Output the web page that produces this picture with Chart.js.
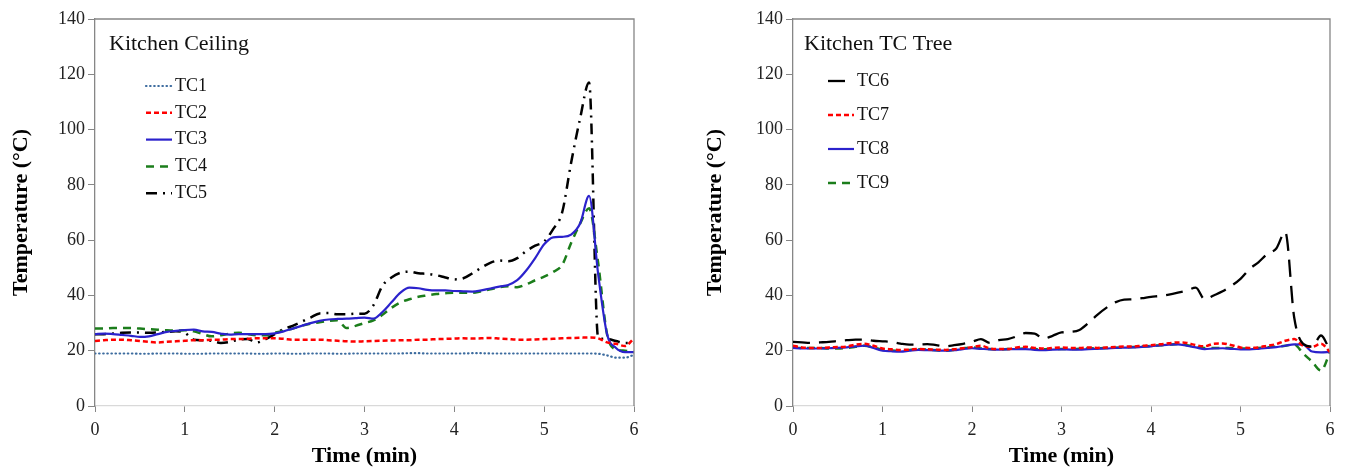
<!DOCTYPE html>
<html>
<head>
<meta charset="utf-8">
<script src="https://cdn.jsdelivr.net/npm/chart.js@4"></script>
<style>
  html,body{margin:0;padding:0;background:#fff;}
  body{width:1350px;height:470px;position:relative;overflow:hidden;}
  .box{position:absolute;top:0;height:470px;}
  #leftBox{left:0;width:660px;}
  #rightBox{left:660px;width:690px;}
</style>
</head>
<body>
<div class="box" id="leftBox"><canvas id="ceilingChart"></canvas></div>
<div class="box" id="rightBox"><canvas id="treeChart"></canvas></div>
<script>
// --- Data (time in min, temperature in °C) ---
const times = [0,0.1,0.2,0.3,0.4,0.5,0.6,0.7,0.8,0.9,1,1.1,1.2,1.3,1.4,1.5,1.6,1.7,1.8,1.9,2,2.1,2.2,2.3,2.4,2.5,2.6,2.7,2.8,2.9,3,3.1,3.2,3.3,3.4,3.5,3.6,3.7,3.8,3.9,4,4.1,4.2,4.3,4.4,4.5,4.6,4.7,4.8,4.9,5,5.1,5.2,5.3,5.4,5.5,5.6,5.7,5.8,5.9,6];
const xTicks = [0,1,2,3,4,5,6];
const yTicks = [0,20,40,60,80,100,120,140];

// Kitchen ceiling
const tc1 = [19,19,19,19,19,18.9,18.9,19,19,19,18.9,18.9,18.9,19,19,19,19,19,18.9,18.9,19,19,18.9,18.9,19,19,19,18.9,18.9,19,19,19,19,19,19,19.1,19.1,19,19,19,19,19,19.1,19.1,19,19,19,19,19,19,19,19,19,19,19,19,18.9,18.3,17.5,17.5,18.5];
const tc2 = [23.5,23.8,24,24,23.8,23.5,23.2,23,23.2,23.4,23.6,23.8,23.8,24,24,24.2,24.2,24.3,24.5,24.5,24.5,24.3,24,24,24,24,23.8,23.6,23.4,23.3,23.4,23.5,23.6,23.7,23.8,23.8,24,24,24.2,24.3,24.4,24.5,24.4,24.5,24.6,24.4,24.2,24,24,24.1,24.2,24.3,24.5,24.6,24.7,24.8,24.5,23,22.5,21.7,24.5];
const tc3 = [26,26.2,26,25.7,25.4,25,25.2,26,26.8,27.2,27.5,27.6,27,26.8,26.2,25.8,26,26,26,26,26.3,27,28,29,30,30.8,31.3,31.5,31.6,31.8,32,31.6,34,37.5,41,42.8,42.6,42,41.8,41.8,41.6,41.5,41.4,41.8,42.5,43.2,43.8,45.5,49,53.5,58.5,61,61.2,62,66,76,48,26,21,19.5,19.5];
const tc4 = [28,28,28.2,28.2,28.2,28,27.8,27.6,27.4,27.3,27.4,27,26,25.2,25.6,26.2,26.5,26,25.6,25.6,26.5,27.2,28,29,29.8,30.3,30.8,31,28.2,29,30,31,33,35.5,37.5,38.6,39.5,40,40.5,40.8,41,41,41,41.5,42.2,43,43.3,43,44,45.5,46.8,48.5,51,59,66,71.5,52,26,20.5,20,19.5];
const tc5 = [26,26,26.2,26.5,26.6,26.6,26.5,26.6,26.8,27,26.5,24,23.8,23.6,22.8,23.2,24,24.2,23,24.2,26,27.8,29,30.5,32,33.5,33.6,33.2,33.2,33.4,33.4,36.5,43.5,46.5,48.2,48.6,48,47.8,47.3,46.5,45.8,46.2,48,50,51.8,52.6,52.4,53.5,56,58,59.5,64,70,88,104,117,25,24.2,23.5,22.8,22.8];

// Kitchen TC tree
const tc6 = [23.2,23,22.8,23,23.2,23.5,23.8,24,24,23.6,23.4,23.2,22.6,22.2,22.2,22.4,22,21.6,22,22.5,23.2,24.2,22.8,23.8,24.2,25.2,26.4,26.2,24.4,25.4,26.6,26.8,27.5,30,33,35.5,37.5,38.5,38.6,39,39.5,39.8,40.3,41,41.8,42.8,38.6,40,41.5,43.5,46,49.5,52,55,57,63,32,22.5,21.5,25.5,20];
const tc7 = [21.8,21.2,21,21,21.2,21.3,21.5,22.2,22.5,21.8,20.8,20.5,20.3,20.4,20.6,20.5,20.4,20.3,20.5,20.9,21.3,21.8,20.8,20.6,20.6,21.2,21.4,21,20.8,21,21.2,21,21,21.2,21,21.2,21.3,21.5,21.5,21.8,22,22.3,22.7,23,22.8,22,21.6,22.5,22.6,22,21.2,21,21.2,21.8,22.4,23.6,24.2,21.8,21.4,22.5,19.5];
const tc8 = [21,20.8,20.8,20.8,20.9,21,21.2,21.6,21.8,21,20,19.8,19.7,20,20.3,20.2,20.1,20,20.2,20.6,20.9,20.7,20.5,20.4,20.5,20.6,20.6,20.3,20.2,20.4,20.5,20.4,20.4,20.6,20.7,20.8,21,21.1,21.2,21.4,21.6,21.9,22.2,22.3,21.8,21.2,20.6,20.8,20.9,20.7,20.5,20.5,20.7,21,21.3,21.8,22.3,22.2,19.7,19.4,19.5];
const tc9 = [21.2,21,21,21,20.8,20.8,21,21.4,21.8,21.2,20.3,20.1,20,20.3,20.5,20.4,20.2,20,20.3,20.8,21.2,20.8,20.6,20.5,20.6,20.7,20.8,20.6,20.5,20.6,20.6,20.6,20.7,20.8,20.9,21,21.1,21.2,21.3,21.5,21.7,22,22.2,22.4,22,21.4,21,21,21,20.9,20.8,20.8,21,21.2,21.5,21.8,22.3,19,16,12.8,19.5];

// --- Styling ---
const SERIF = "'Liberation Serif','Times New Roman',serif";
const AXIS_GRAY = '#868686';
Chart.defaults.font.family = SERIF;
Chart.defaults.color = '#222';

function pts(vals){ return times.map((t,i)=>({x:t, y:vals[i]})); }

function series(label, vals, color, dash, width, cap){
  return {
    label, data: pts(vals), borderColor: color, backgroundColor: color,
    borderWidth: width || 2.2, borderDash: dash || [], borderCapStyle: cap || 'butt',
    pointRadius: 0, fill: false, cubicInterpolationMode: 'monotone'
  };
}

// --- Legend + caption drawn inside the plot area ---
const insideLegend = {
  id: 'insideLegend',
  afterDraw(chart, args, opts){
    const ctx = chart.ctx, a = chart.chartArea;
    ctx.save();
    // top + right frame
    ctx.strokeStyle = AXIS_GRAY; ctx.lineWidth = 1.3;
    ctx.beginPath();
    ctx.moveTo(a.left, a.top); ctx.lineTo(a.right, a.top); ctx.lineTo(a.right, a.bottom);
    ctx.stroke();
    // caption
    ctx.fillStyle = '#111';
    ctx.font = `22px ${SERIF}`;
    ctx.textBaseline = 'middle';
    ctx.fillText(opts.title, opts.titleX, opts.titleY);
    // entries
    ctx.font = `18px ${SERIF}`;
    chart.data.datasets.forEach((ds,i)=>{
      const y = opts.y + i*opts.gap;
      ctx.strokeStyle = ds.borderColor;
      ctx.lineWidth = ds.borderWidth;
      ctx.lineCap = ds.borderCapStyle;
      ctx.setLineDash(ds.borderDash);
      ctx.beginPath(); ctx.moveTo(opts.x, y); ctx.lineTo(opts.x + opts.sample, y); ctx.stroke();
      ctx.setLineDash([]);
      ctx.fillStyle = '#111';
      ctx.fillText(ds.label, opts.x + opts.sample + 3, y);
    });
    ctx.restore();
  }
};

function makeChart(canvasId, datasets, yWidth, padLeft, padRight, legendOpts){
  return new Chart(document.getElementById(canvasId), {
    type: 'line',
    data: { datasets },
    plugins: [insideLegend],
    options: {
      responsive: true, maintainAspectRatio: false, animation: false,
      layout: { padding: { left: padLeft, right: padRight, top: 19, bottom: 0 } },
      plugins: { legend: { display: false }, tooltip: { enabled: false }, insideLegend: legendOpts },
      scales: {
        x: {
          type: 'linear', min: 0, max: 6,
          afterBuildTicks: s => { s.ticks = xTicks.map(v=>({value:v})); },
          grid: { drawOnChartArea: false, tickLength: 6, color: AXIS_GRAY },
          border: { color: '#d9d9d9', width: 1.3 },
          ticks: { font: { size: 18 }, padding: 7, color: '#222', maxRotation: 0 },
          title: { display: true, text: 'Time (min)', font: { size: 22, weight: 'bold' }, color: '#000', padding: { top: 0, bottom: 0 } },
          afterFit: s => { s.height = 64; }
        },
        y: {
          min: 0, max: 140,
          afterBuildTicks: s => { s.ticks = yTicks.map(v=>({value:v})); },
          grid: { drawOnChartArea: false, tickLength: 7, color: AXIS_GRAY },
          border: { color: AXIS_GRAY, width: 1.3 },
          ticks: { font: { size: 18 }, padding: 3, color: '#222' },
          title: { display: true, text: 'Temperature (°C)', font: { size: 22, weight: 'bold' }, color: '#000', padding: { top: 4, bottom: 0 } },
          afterFit: s => { s.width = yWidth; }
        }
      }
    }
  });
}

// --- Kitchen Ceiling ---
makeChart('ceilingChart', [
  series('TC1', tc1, '#3d6c9f', [0.5, 3.6], 2.2, 'round'),
  series('TC2', tc2, '#ff0000', [5, 3], 2.5),
  series('TC3', tc3, '#2b22cc', [], 2.2),
  series('TC4', tc4, '#1b7d1b', [8, 6], 2.5),
  series('TC5', tc5, '#000000', [11, 6, 2, 6], 2.5)
], 91, 4, 26, { title: 'Kitchen Ceiling', titleX: 109, titleY: 44, x: 146, y: 86, gap: 26.8, sample: 26 });

// --- Kitchen TC Tree ---
makeChart('treeChart', [
  series('TC6', tc6, '#000000', [17, 9], 2.3),
  series('TC7', tc7, '#ff0000', [5, 3], 2.5),
  series('TC8', tc8, '#2b22cc', [], 2.2),
  series('TC9', tc9, '#1b7d1b', [8, 6], 2.5)
], 95, 38, 20, { title: 'Kitchen TC Tree', titleX: 144, titleY: 44, x: 168, y: 81, gap: 34, sample: 26 });
</script>
</body>
</html>
